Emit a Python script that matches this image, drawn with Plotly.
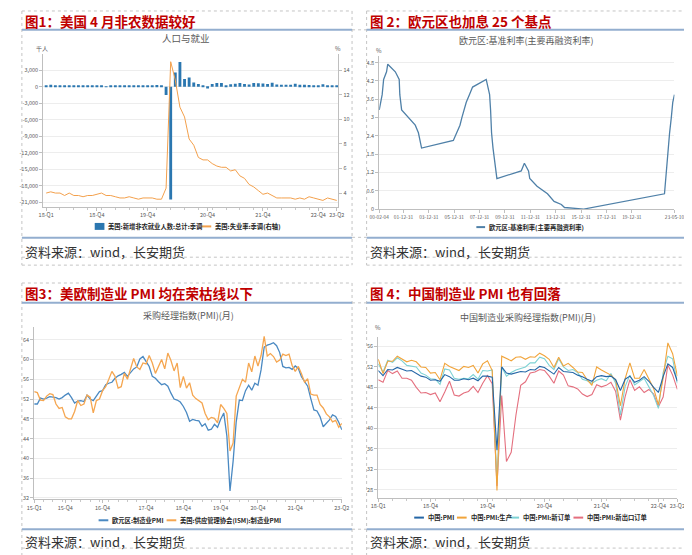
import plotly.graph_objects as go

W, H = 692, 555
FONT = "Noto Sans CJK SC, Noto Sans, sans-serif"

# ---------------- data ----------------
# Panel 1: US nonfarm payrolls (thousands) and unemployment rate (%), 2018-01 .. 2023-04
months1 = [f"{y}-{m:02d}" for y in range(2018, 2024) for m in range(1, 13)][:64]
nfp = [247, 356, 130, 193, 270, 235, 205, 296, 137, 277, 196, 227,
       269, 1, 147, 210, 85, 182, 194, 207, 208, 185, 261, 184,
       315, 289, -1500, -20500, 2600, 4500, 1400, 1700, 800, 500, 150, -300,
       520, 710, 704, 263, 447, 557, 689, 517, 424, 677, 647, 588,
       504, 714, 398, 368, 386, 370, 568, 352, 350, 324, 290, 239,
       472, 248, 217, 253]
unemp = [4.0, 4.1, 4.0, 4.0, 3.8, 4.0, 3.8, 3.8, 3.7, 3.8, 3.8, 3.9,
         4.0, 3.8, 3.8, 3.7, 3.6, 3.6, 3.7, 3.6, 3.5, 3.6, 3.6, 3.6,
         3.5, 3.5, 4.4, 14.7, 13.2, 11.0, 10.2, 8.4, 7.9, 6.9, 6.7, 6.7,
         6.4, 6.2, 6.1, 6.1, 5.8, 5.9, 5.4, 5.2, 4.7, 4.5, 4.2, 3.9,
         4.0, 3.8, 3.6, 3.6, 3.6, 3.6, 3.5, 3.6, 3.5, 3.7, 3.6, 3.5,
         3.4, 3.6, 3.5, 3.4]
p1_tickpos = [0, 11, 22, 35, 47, 59, 63]
p1_ticktext = ["18-Q1", "18-Q4", "19-Q4", "20-Q4", "21-Q4", "22-Q4", "23-Q2"]
p1_ly_vals = [3000, 0, -3000, -6000, -9000, -12000, -15000, -18000, -21000]
p1_ly_text = ["3,000", "0", "-3,000", "-6,000", "-9,000", "-12,000", "-15,000", "-18,000", "-21,000"]
p1_ry_vals = [4, 6, 8, 10, 12, 14]

# Panel 2: ECB main refinancing rate (change dates)
ecb_dates = ["2000-02-04", "2000-03-17", "2000-04-28", "2000-06-09", "2000-09-01", "2000-10-06",
             "2001-05-11", "2001-08-31", "2001-09-18", "2001-11-09", "2002-12-06", "2003-03-07",
             "2003-06-06", "2005-12-06", "2006-03-08", "2006-06-15", "2006-08-09", "2006-10-11",
             "2006-12-13", "2007-03-14", "2007-06-13", "2008-07-09", "2008-10-15", "2008-11-12",
             "2008-12-10", "2009-01-21", "2009-03-11", "2009-04-08", "2009-05-13", "2011-04-13",
             "2011-07-13", "2011-11-09", "2011-12-14", "2012-07-11", "2013-05-08", "2013-11-13",
             "2014-06-11", "2014-09-10", "2016-03-16", "2022-07-27", "2022-09-14", "2022-11-02",
             "2022-12-21", "2023-02-08", "2023-03-22", "2023-05-10"]
ecb_rates = [3.25, 3.5, 3.75, 4.25, 4.5, 4.75, 4.5, 4.25, 3.75, 3.25, 2.75, 2.5,
             2.0, 2.25, 2.5, 2.75, 3.0, 3.25, 3.5, 3.75, 4.0, 4.25, 3.75, 3.25,
             2.5, 2.0, 1.5, 1.25, 1.0, 1.25, 1.5, 1.25, 1.0, 0.75, 0.5, 0.25,
             0.15, 0.05, 0.0, 0.5, 1.25, 2.0, 2.5, 3.0, 3.5, 3.75]
p2_tickdates = ["2000-02-04", "2001-12-31", "2003-12-31", "2005-12-31", "2007-12-31", "2009-12-31",
                "2011-12-31", "2013-12-31", "2015-12-31", "2017-12-31", "2019-12-31", "2023-05-10"]
p2_ticktext = ["00-02-04", "01-12-31", "03-12-31", "05-12-31", "07-12-31", "09-12-31",
               "11-12-31", "13-12-31", "15-12-31", "17-12-31", "19-12-31", "23-05-10"]
p2_y_vals = [0, 0.6, 1.2, 1.8, 2.4, 3.0, 3.6, 4.2, 4.8]
p2_y_text = ["0", "0.6", "1.2", "1.8", "2.4", "3", "3.6", "4.2", "4.8"]

# Panel 3: Eurozone manufacturing PMI & US ISM PMI, 2015-01 .. 2023-04
months3 = [f"{y}-{m:02d}" for y in range(2015, 2024) for m in range(1, 13)][:100]
ez_pmi = [51.0, 51.0, 52.2, 52.0, 52.2, 52.5, 52.4, 52.3, 52.0, 52.3, 52.8, 53.2,
          52.3, 51.2, 51.6, 51.7, 51.5, 52.8, 52.0, 51.7, 52.6, 53.5, 53.7, 54.9,
          55.2, 55.4, 56.2, 56.7, 57.0, 57.4, 56.6, 57.4, 58.1, 58.5, 60.1, 60.6,
          59.6, 58.6, 56.6, 56.2, 55.5, 54.9, 55.1, 54.6, 53.2, 52.0, 51.8, 51.4,
          50.5, 49.3, 47.5, 47.9, 47.7, 47.6, 46.5, 47.0, 45.7, 45.9, 46.9, 46.3,
          47.9, 49.2, 44.5, 33.4, 39.4, 47.4, 51.8, 51.7, 53.7, 54.8, 53.8, 55.2,
          54.8, 57.9, 62.5, 62.9, 63.1, 63.4, 62.8, 61.4, 58.6, 58.3, 58.4, 58.0,
          58.7, 58.2, 56.5, 55.5, 54.6, 52.1, 49.8, 49.6, 48.4, 46.4, 47.1, 47.8,
          48.8, 48.5, 47.3, 45.8]
ism_pmi = [53.5, 53.3, 51.8, 51.7, 52.6, 53.1, 52.9, 51.0, 50.1, 50.3, 48.4, 48.0,
           48.0, 49.5, 51.7, 50.7, 51.0, 52.8, 52.4, 49.2, 51.7, 52.0, 53.7, 54.5,
           56.0, 57.6, 56.6, 54.2, 54.5, 57.2, 56.0, 58.0, 60.2, 58.5, 58.0, 59.3,
           59.1, 60.8, 59.3, 57.2, 58.7, 60.0, 58.1, 61.3, 59.8, 57.7, 59.3, 54.3,
           56.6, 54.2, 55.3, 52.8, 52.1, 51.7, 51.2, 49.1, 47.8, 48.3, 48.1, 47.2,
           50.9, 50.1, 49.1, 41.5, 43.1, 52.6, 54.2, 56.0, 55.4, 59.3, 57.5, 60.7,
           58.7, 60.8, 64.7, 60.7, 61.2, 60.6, 59.5, 59.9, 61.1, 60.8, 61.1, 58.8,
           57.6, 58.6, 57.1, 55.4, 56.1, 53.0, 52.8, 52.8, 50.9, 50.2, 49.0, 48.4,
           47.4, 47.7, 46.3, 47.1]
p3_tickpos = [0, 10, 22, 36, 48, 60, 72, 84, 99]
p3_ticktext = ["15-Q1", "15-Q4", "16-Q4", "17-Q4", "18-Q4", "19-Q4", "20-Q4", "21-Q4", "23-Q2"]
p3_y_vals = [32, 36, 40, 44, 48, 52, 56, 60, 64]

# Panel 4: China manufacturing PMI, 2018-01 .. 2023-04
months4 = months1
cn_pmi = [51.3, 50.3, 51.5, 51.4, 51.9, 51.5, 51.2, 51.3, 50.8, 50.2, 50.0, 49.4,
          49.5, 49.2, 50.5, 50.1, 49.4, 49.4, 49.7, 49.5, 49.8, 49.3, 50.2, 50.2,
          50.0, 35.7, 52.0, 50.8, 50.6, 50.9, 51.1, 51.0, 51.5, 51.4, 52.1, 51.9,
          51.3, 50.6, 51.9, 51.1, 51.0, 50.9, 50.4, 50.1, 49.6, 49.2, 50.1, 50.3,
          50.1, 50.2, 49.5, 47.4, 49.6, 50.2, 49.0, 49.4, 50.1, 49.2, 48.0, 47.0,
          50.1, 52.6, 51.9, 49.2]
cn_prod = [53.5, 50.7, 53.1, 53.1, 54.1, 53.6, 53.0, 53.3, 53.0, 52.0, 51.9, 50.8,
           50.9, 49.5, 52.7, 52.1, 51.7, 51.3, 52.1, 51.9, 52.3, 50.8, 52.6, 53.2,
           51.3, 27.8, 54.1, 53.7, 53.2, 53.9, 54.0, 53.5, 54.0, 53.9, 54.7, 54.2,
           53.5, 51.9, 53.9, 52.2, 52.7, 51.9, 51.0, 50.9, 49.5, 48.4, 52.0, 51.4,
           50.9, 50.4, 49.5, 44.4, 49.7, 52.8, 49.8, 49.8, 51.5, 49.6, 47.8, 44.6,
           49.8, 56.7, 54.6, 50.2]
cn_neworder = [52.6, 51.0, 53.3, 52.9, 53.8, 53.2, 52.3, 52.2, 52.0, 50.8, 50.4, 49.7,
               49.6, 48.6, 51.6, 51.4, 49.8, 49.6, 49.8, 49.7, 50.5, 49.6, 51.3, 51.2,
               51.4, 29.3, 52.0, 50.2, 50.9, 51.4, 51.7, 52.0, 52.8, 52.8, 53.9, 53.6,
               52.3, 51.5, 53.6, 52.0, 51.3, 51.5, 50.9, 49.6, 49.3, 48.8, 49.4, 49.7,
               49.3, 50.7, 48.8, 42.6, 48.2, 50.4, 48.5, 49.2, 49.8, 48.1, 46.4, 43.9,
               50.9, 54.1, 53.6, 48.8]
cn_export = [49.5, 49.0, 51.3, 50.7, 51.2, 49.8, 49.8, 49.4, 48.0, 46.9, 47.0, 46.6,
             46.9, 45.2, 47.1, 49.2, 46.5, 46.3, 46.9, 47.2, 48.2, 47.0, 48.8, 50.3,
             48.7, 28.7, 46.4, 33.5, 35.3, 42.6, 48.4, 49.1, 50.8, 51.0, 51.5, 51.3,
             50.2, 48.8, 51.2, 50.4, 48.3, 48.1, 47.7, 46.7, 46.2, 46.6, 48.5, 48.1,
             48.4, 49.0, 47.2, 41.6, 46.2, 49.5, 47.4, 48.1, 47.0, 47.6, 46.7, 44.2,
             46.1, 52.4, 50.4, 47.6]
p4_tickpos = [0, 11, 23, 35, 47, 59, 63]
p4_ticktext = ["18-Q1", "18-Q4", "19-Q4", "20-Q4", "21-Q4", "22-Q4", "23-Q2"]
p4_y_vals = [28, 32, 36, 40, 44, 48, 52, 56]

# ---------------- styling ----------------
C_BAR = "#2B77B0"
C_OR1 = "#F3A04C"
C_ECB = "#4F80A8"
C_EZ = "#4A89C2"
C_ISM = "#F5A650"
C_PMI = "#2466A6"
C_PROD = "#F1A43A"
C_NEW = "#7ED2D4"
C_EXP = "#E46F7E"
C_SEP = "#93AECF"
C_TITLE = "#C00000"


def px(x):
    return x / W


def py(y):
    return 1 - y / H


idx1 = list(range(len(months1)))
idx3 = list(range(len(months3)))
idx4 = list(range(len(months4)))

fig = go.Figure()

fig.add_trace(go.Bar(x=idx1, y=nfp, name="美国:新增非农就业人数:总计:季调",
                     marker=dict(color=C_BAR, line=dict(width=0)), width=0.62,
                     xaxis="x", yaxis="y", showlegend=False))
fig.add_trace(go.Scatter(x=idx1, y=unemp, name="美国:失业率:季调(右轴)", mode="lines",
                         line=dict(color=C_OR1, width=1), xaxis="x", yaxis="y2", showlegend=False))

fig.add_trace(go.Scatter(x=ecb_dates, y=ecb_rates, name="欧元区:基准利率(主要再融资利率)", mode="lines",
                         line=dict(color=C_ECB, width=1.3), xaxis="x2", yaxis="y3", showlegend=False))

fig.add_trace(go.Scatter(x=idx3, y=ez_pmi, name="欧元区:制造业PMI", mode="lines",
                         line=dict(color=C_EZ, width=1.3), xaxis="x3", yaxis="y4", showlegend=False))
fig.add_trace(go.Scatter(x=idx3, y=ism_pmi, name="美国:供应管理协会(ISM):制造业PMI", mode="lines",
                         line=dict(color=C_ISM, width=1.3), xaxis="x3", yaxis="y4", showlegend=False))

for ser, nm, col in [(cn_export, "中国:PMI:新出口订单", C_EXP), (cn_neworder, "中国:PMI:新订单", C_NEW),
                     (cn_prod, "中国:PMI:生产", C_PROD), (cn_pmi, "中国:PMI", C_PMI)]:
    fig.add_trace(go.Scatter(x=idx4, y=ser, name=nm, mode="lines",
                             line=dict(color=col, width=1.1), xaxis="x4", yaxis="y5", showlegend=False))

tickfont = dict(size=5.5, color="#595959", family=FONT)
base = dict(showline=True, linecolor="#BFBFBF", linewidth=1, ticks="outside", ticklen=3,
            tickcolor="#BFBFBF", tickfont=tickfont, zeroline=False, fixedrange=True, tickangle=0)
grid = dict(showgrid=True, gridcolor="#EDEDED", gridwidth=0.8)
minor = dict(ticks="outside", ticklen=2, tickcolor="#C8C8C8", dtick=3, tick0=0, showgrid=False)

fig.update_layout(
    width=W, height=H, margin=dict(l=0, r=0, t=0, b=0),
    paper_bgcolor="white", plot_bgcolor="white", showlegend=False,
    font=dict(family=FONT),
    xaxis=dict(**base, domain=[px(26), px(330)], range=[-0.63, 63.37], anchor="y",
               tickmode="array", tickvals=p1_tickpos, ticktext=p1_ticktext, showgrid=False, minor=minor),
    yaxis=dict(**base, **grid, domain=[py(200), py(46.7)], range=[-21800, 5900], anchor="x",
               tickmode="array", tickvals=p1_ly_vals, ticktext=p1_ly_text),
    yaxis2=dict(**base, overlaying="y", side="right", range=[2.9, 15.3], anchor="x",
                tickmode="array", tickvals=p1_ry_vals, showgrid=False),
    xaxis2=dict(**{**base, "tickfont": dict(size=4.8, color="#595959", family=FONT)},
                type="date", domain=[px(372), px(676)], range=["2000-02-04", "2023-05-10"],
                anchor="y3", tickmode="array", tickvals=p2_tickdates, ticktext=p2_ticktext, showgrid=False),
    yaxis3=dict(**base, **grid, domain=[py(202.5), py(48)], range=[0, 5.03], anchor="x2",
                tickmode="array", tickvals=p2_y_vals, ticktext=p2_y_text),
    xaxis3=dict(**base, domain=[px(16.7), px(333.5)], range=[0, 99], anchor="y4",
                tickmode="array", tickvals=p3_tickpos, ticktext=p3_ticktext, showgrid=False, minor=minor),
    yaxis4=dict(**base, **grid, domain=[py(495), py(321.7)], range=[31.7, 66.5], anchor="x3",
                tickmode="array", tickvals=p3_y_vals),
    xaxis4=dict(**base, domain=[px(371), px(679)], range=[0, 63], anchor="y5",
                tickmode="array", tickvals=p4_tickpos, ticktext=p4_ticktext, showgrid=False, minor=minor),
    yaxis5=dict(**base, **grid, domain=[py(493.3), py(331.7)], range=[26.4, 57.8], anchor="x4",
                tickmode="array", tickvals=p4_y_vals),
)


def text(x, y, s, size, color="#333333", anchor="left", weight="normal", family=FONT):
    fig.add_annotation(xref="paper", yref="paper", x=px(x), y=py(y), text=s, showarrow=False,
                       xanchor=anchor, yanchor="middle",
                       font=dict(size=size, color=color, family=family, weight=weight))


def hline(x0, x1, y, color, width, dash="solid"):
    fig.add_shape(type="line", xref="paper", yref="paper", x0=px(x0), x1=px(x1), y0=py(y), y1=py(y),
                  line=dict(color=color, width=width, dash=dash))


def vline(x, y0, y1, color, width, dash="solid"):
    fig.add_shape(type="line", xref="paper", yref="paper", x0=px(x), x1=px(x), y0=py(y0), y1=py(y1),
                  line=dict(color=color, width=width, dash=dash))


DASH = "#C4C4C4"
# dashed table borders
for (x0, x1, y0, y1, ysrc) in [(4, 344, 3, 259, 251), (359, 690, 3, 259, 251),
                               (4, 344, 277, 552, 544), (359, 690, 277, 552, 544)]:
    hline(x0, x1, y0, DASH, 1, "dot")
    hline(x0, x1, y1, DASH, 1, "dot")
    hline(x0, x1, ysrc, DASH, 1, "dot")
    vline(x0, y0, y1, DASH, 1, "dot")
    vline(x1, y0, y1, DASH, 1, "dot")
hline(344, 359, 22, DASH, 1, "dot")
hline(344, 359, 231, DASH, 1, "dot")
hline(344, 359, 297, DASH, 1, "dot")
hline(344, 359, 525, DASH, 1, "dot")

# blue separator lines
for (x0, x1) in [(4, 344), (359, 690)]:
    hline(x0, x1, 22, C_SEP, 2)
    hline(x0, x1, 231.5, C_SEP, 2)
    hline(x0, x1, 297, C_SEP, 2)
    hline(x0, x1, 525, C_SEP, 2)

# red panel titles
text(5, 13.3, "图1：美国 4 月非农数据较好", 13.5, C_TITLE, weight="bold")
text(360, 13.3, "图 2：欧元区也加息 25 个基点", 13.5, C_TITLE, weight="bold")
text(5, 287.3, "图3：美欧制造业 PMI 均在荣枯线以下", 13.5, C_TITLE, weight="bold")
text(360, 287.3, "图 4：中国制造业 PMI 也有回落", 13.5, C_TITLE, weight="bold")

# source notes
for (x, y) in [(5, 245), (360, 245), (5, 537), (360, 537)]:
    text(x, y, "资料来源：wind，长安期货", 13, "#333333")

# chart titles
text(173, 30, "人口与就业", 9.5, "#595959", anchor="center")
text(524, 32.3, "欧元区:基准利率(主要再融资利率)", 9, "#595959", anchor="center")
text(175.5, 310, "采购经理指数(PMI)(月)", 9, "#595959", anchor="center")
text(525, 311.7, "中国制造业采购经理指数(PMI)(月)", 9, "#595959", anchor="center")

# unit labels
text(25, 40.7, "千人", 6, "#595959", anchor="center")
text(330, 40.7, "%", 6, "#595959", anchor="center")
text(372, 42.7, "%", 6, "#595959", anchor="center")
text(371, 322.3, "%", 6, "#595959", anchor="center")

# manual legends
LF = 6.3
fig.add_shape(type="rect", xref="paper", yref="paper", x0=px(79), x1=px(89), y0=py(223.5), y1=py(216.5),
              fillcolor=C_BAR, line=dict(width=0))
text(91, 220, "美国:新增非农就业人数:总计:季调", LF, "#262626", weight="bold")
hline(189, 199, 220, C_OR1, 2)
text(201, 220, "美国:失业率:季调(右轴)", LF, "#262626", weight="bold")

hline(472, 481, 220.7, C_ECB, 2)
text(483, 220.7, "欧元区:基准利率(主要再融资利率)", LF, "#262626", weight="bold")

hline(83, 93, 516, C_EZ, 2)
text(95, 516, "欧元区:制造业PMI", LF, "#262626", weight="bold")
hline(153, 163, 516, C_ISM, 2)
text(165, 516, "美国:供应管理协会(ISM):制造业PMI", LF, "#262626", weight="bold")

for (x0, col, label) in [(408, C_PMI, "中国:PMI"), (452, C_PROD, "中国:PMI:生产"),
                         (506, C_NEW, "中国:PMI:新订单"), (572, C_EXP, "中国:PMI:新出口订单")]:
    hline(x0, x0 + 10, 513.3, col, 2)
    text(x0 + 12, 513.3, label, LF, "#262626", weight="bold")

fig.write_html("out.html")
